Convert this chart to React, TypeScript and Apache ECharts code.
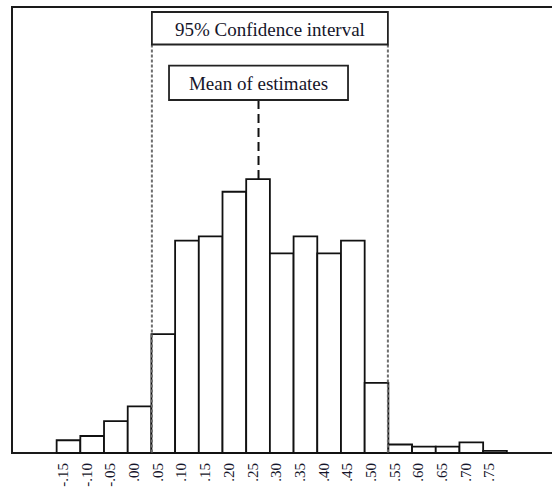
import React, { useEffect, useRef } from "react";
import * as echarts from "echarts";

// Bin centres of the histogram of estimates
const BIN_CENTERS = [
  -0.15, -0.1, -0.05, 0.0, 0.05, 0.1, 0.15, 0.2, 0.25, 0.3, 0.35, 0.4, 0.45, 0.5, 0.55, 0.6, 0.65, 0.7, 0.75,
];
const TICK_LABELS = [
  "-.15", "-.10", "-.05", ".00", ".05", ".10", ".15", ".20", ".25", ".30", ".35", ".40", ".45", ".50", ".55", ".60", ".65", ".70", ".75",
];
// Frequencies (counts out of 1000 estimates)
const FREQUENCIES = [6, 8, 15, 22, 56, 100, 102, 123, 129, 94, 102, 94, 100, 33, 4, 3, 3, 5, 1];
const BIN_WIDTH = 0.05;
const CI_BOUNDS = [0.026, 0.524];
const MEAN_ESTIMATE = 0.251;
const CI_LABEL = "95% Confidence interval";
const MEAN_LABEL = "Mean of estimates";

// axis extent (px-per-unit chosen to match the picture)
const X_MIN = -0.2692;
const X_MAX = 0.9125;
const Y_MAX = 210;

const FONT = "'Liberation Serif', 'Times New Roman', serif";

export default function App() {
  const ref = useRef<HTMLDivElement>(null);
  useEffect(() => {
    if (!ref.current) return;
    const chart = echarts.init(ref.current, undefined, { renderer: "svg" });
    const meanBin = Math.round((MEAN_ESTIMATE - BIN_CENTERS[0]) / BIN_WIDTH);
    const meanPeak = FREQUENCIES[meanBin];

    chart.setOption({
      animation: false,
      backgroundColor: "#fff",
      grid: {
        left: 12,
        top: 7,
        width: 560,
        height: 446,
        outerBoundsMode: "none",
        containLabel: false,
        show: true,
        borderColor: "#1a1a1a",
        borderWidth: 2,
        backgroundColor: "transparent",
      },
      xAxis: {
        type: "value",
        min: X_MIN,
        max: X_MAX,
        splitLine: { show: false },
        axisLine: { show: false },
        axisTick: { show: false },
        axisLabel: {
          customValues: BIN_CENTERS,
          formatter: (v: number) => {
            const i = Math.round((v - BIN_CENTERS[0]) / BIN_WIDTH);
            return TICK_LABELS[i] ?? "";
          },
          rotate: 90,
          margin: 10,
          fontSize: 15,
          fontFamily: FONT,
          color: "#15152a",
          verticalAlign: "bottom",
          lineHeight: 11,
        },
      },
      yAxis: { type: "value", min: 0, max: Y_MAX, show: false },
      series: [
        {
          type: "custom",
          z: 2,
          data: BIN_CENTERS.map((c, i) => [c, FREQUENCIES[i]]),
          encode: { x: 0, y: 1 },
          renderItem: (params: any, api: any) => {
            const c = api.value(0);
            const f = api.value(1);
            const tl = api.coord([c - BIN_WIDTH / 2, f]);
            const br = api.coord([c + BIN_WIDTH / 2, 0]);
            return {
              type: "rect",
              shape: { x: tl[0], y: tl[1], width: br[0] - tl[0], height: br[1] - tl[1] },
              style: { fill: "#fff", stroke: "#111", lineWidth: 1.8 },
            };
          },
        },
        {
          type: "custom",
          z: 3,
          data: [[CI_BOUNDS[0], CI_BOUNDS[1]]],
          encode: { x: [0, 1] },
          renderItem: (params: any, api: any) => {
            const cs = params.coordSys;
            const l = api.coord([api.value(0), 0]);
            const r = api.coord([api.value(1), 0]);
            const top = cs.y + 5;
            const h = 32.5;
            const dotted = { stroke: "#6e6e6e", lineWidth: 2, lineDash: [3, 2] };
            return {
              type: "group",
              children: [
                { type: "line", shape: { x1: l[0], y1: top + h, x2: l[0], y2: l[1] }, style: dotted },
                { type: "line", shape: { x1: r[0], y1: top + h, x2: r[0], y2: r[1] }, style: dotted },
                {
                  type: "rect",
                  shape: { x: l[0], y: top, width: r[0] - l[0], height: h },
                  style: { fill: "#fff", stroke: "#222", lineWidth: 1.8 },
                },
                {
                  type: "text",
                  x: (l[0] + r[0]) / 2,
                  y: top + h / 2 + 1,
                  style: {
                    text: CI_LABEL,
                    fontSize: 19,
                    fontFamily: FONT,
                    fill: "#15152a",
                    align: "center",
                    verticalAlign: "middle",
                  },
                },
              ],
            };
          },
        },
        {
          type: "custom",
          z: 3,
          data: [[MEAN_ESTIMATE, meanPeak]],
          encode: { x: 0, y: 1 },
          renderItem: (params: any, api: any) => {
            const cs = params.coordSys;
            const p = api.coord([api.value(0), api.value(1)]);
            const top = cs.y + 58.7;
            const h = 34.3;
            const w = 179;
            return {
              type: "group",
              children: [
                {
                  type: "line",
                  shape: { x1: p[0], y1: top + h, x2: p[0], y2: p[1] },
                  style: { stroke: "#111", lineWidth: 2, lineDash: [9, 5] },
                },
                {
                  type: "rect",
                  shape: { x: p[0] - w / 2, y: top, width: w, height: h },
                  style: { fill: "#fff", stroke: "#222", lineWidth: 1.8 },
                },
                {
                  type: "text",
                  x: p[0],
                  y: top + h / 2 + 1,
                  style: {
                    text: MEAN_LABEL,
                    fontSize: 19,
                    fontFamily: FONT,
                    fill: "#15152a",
                    align: "center",
                    verticalAlign: "middle",
                  },
                },
              ],
            };
          },
        },
      ],
    });
    return () => chart.dispose();
  }, []);
  return (
    <div
      ref={ref}
      style={{ position: "fixed", left: 0, top: 0, width: 552, height: 493, background: "#fff" }}
    />
  );
}
